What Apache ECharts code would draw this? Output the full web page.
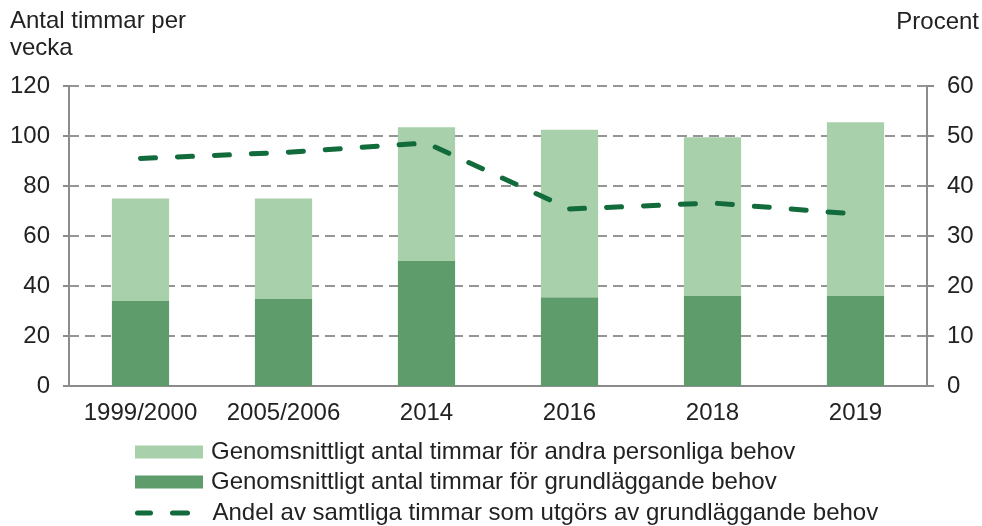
<!DOCTYPE html>
<html lang="sv">
<head>
    <meta charset="UTF-8">
    <title>Timmar per vecka</title>
    <script src="https://cdn.jsdelivr.net/npm/echarts@6/dist/echarts.min.js"></script>
    <style>
        html, body { margin: 0; padding: 0; background: #fff; }
        #chart { width: 982px; height: 526px; }
    </style>
</head>
<body>
<div id="chart"></div>
<script type="text/javascript">
    // data
    var categories = ['1999/2000', '2005/2006', '2014', '2016', '2018', '2019'];
    var basicHours = [34, 35, 50, 35.5, 36, 36];
    var otherHours = [41, 40, 53.5, 67, 63.5, 69.5];
    var basicShare = [45.5, 46.7, 48.6, 35.4, 36.6, 34.4];
    var leftTicks = [0, 20, 40, 60, 80, 100, 120];
    var rightTicks = [0, 10, 20, 30, 40, 50, 60];

    var seriesNames = [
        'Genomsnittligt antal timmar för andra personliga behov',
        'Genomsnittligt antal timmar för grundläggande behov',
        'Andel av samtliga timmar som utgörs av grundläggande behov'
    ];

    var font = 'Arial, "Liberation Sans", sans-serif';
    var txt = '#222';
    var axisGray = '#8c8c8c';
    var lightGreen = '#a7d0ab';
    var darkGreen = '#5f9c6c';
    var lineGreen = '#126b3b';

    // two round dashes for the line legend
    var dashIcon = 'path://M2.5,0 H15.5 A2.5,2.5 0 0 1 15.5,5 H2.5 A2.5,2.5 0 0 1 2.5,0 Z M37.5,0 H52.5 A2.5,2.5 0 0 1 52.5,5 H37.5 A2.5,2.5 0 0 1 37.5,0 Z';

    function oneLegend(name, top, icon, h, gap) {
        return {
            left: 135,
            top: top,
            padding: 0,
            itemWidth: 68,
            itemHeight: h,
            itemGap: 0,
            icon: icon,
            textStyle: { fontFamily: font, fontSize: 24, color: txt, padding: [0, 0, 0, gap] },
            data: [name]
        };
    }

    var myChart = echarts.init(document.getElementById('chart'));
    var option = {
        animation: false,
        grid: { left: 69, right: 55, top: 86, bottom: 140 },
        graphic: [
            { type: 'text', left: 10, top: 8, style: { text: 'Antal timmar per\nvecka', font: '24px ' + font, fill: txt, lineHeight: 27 } },
            { type: 'text', right: 3, top: 10, style: { text: 'Procent', font: '24px ' + font, fill: txt } }
        ],
        legend: [
            oneLegend(seriesNames[0], 440, 'rect', 13, 3),
            oneLegend(seriesNames[1], 470, 'rect', 13, 3),
            oneLegend(seriesNames[2], 501, dashIcon, 5, 11)
        ],
        xAxis: {
            type: 'category',
            data: categories,
            axisLine: { lineStyle: { color: axisGray, width: 2 } },
            axisTick: { show: false },
            axisLabel: { fontFamily: font, fontSize: 24, color: txt, margin: 15, interval: 0 }
        },
        yAxis: [
            {
                type: 'value',
                min: leftTicks[0],
                max: leftTicks[leftTicks.length - 1],
                interval: 20,
                axisLine: { show: true, lineStyle: { color: axisGray, width: 2 } },
                axisTick: { show: true, length: 6, lineStyle: { color: axisGray, width: 2 } },
                axisLabel: { fontFamily: font, fontSize: 24, color: txt, margin: 19 },
                splitLine: { lineStyle: { color: '#959595', width: 2, type: [10, 6] } }
            },
            {
                type: 'value',
                min: rightTicks[0],
                max: rightTicks[rightTicks.length - 1],
                interval: 10,
                position: 'right',
                axisLine: { show: true, lineStyle: { color: axisGray, width: 2 } },
                axisTick: { show: true, length: 7, lineStyle: { color: axisGray, width: 2 } },
                axisLabel: { fontFamily: font, fontSize: 24, color: txt, margin: 20 },
                splitLine: { show: false }
            }
        ],
        series: [
            {
                name: seriesNames[1],
                type: 'bar',
                stack: 'h',
                barWidth: '40%',
                itemStyle: { color: darkGreen },
                data: basicHours
            },
            {
                name: seriesNames[0],
                type: 'bar',
                stack: 'h',
                barWidth: '40%',
                itemStyle: { color: lightGreen },
                data: otherHours
            },
            {
                name: seriesNames[2],
                type: 'line',
                yAxisIndex: 1,
                symbol: 'none',
                itemStyle: { color: lineGreen },
                lineStyle: { color: lineGreen, width: 5, type: [15, 22], cap: 'round' },
                data: basicShare
            }
        ]
    };
    myChart.setOption(option);
</script>
</body>
</html>
